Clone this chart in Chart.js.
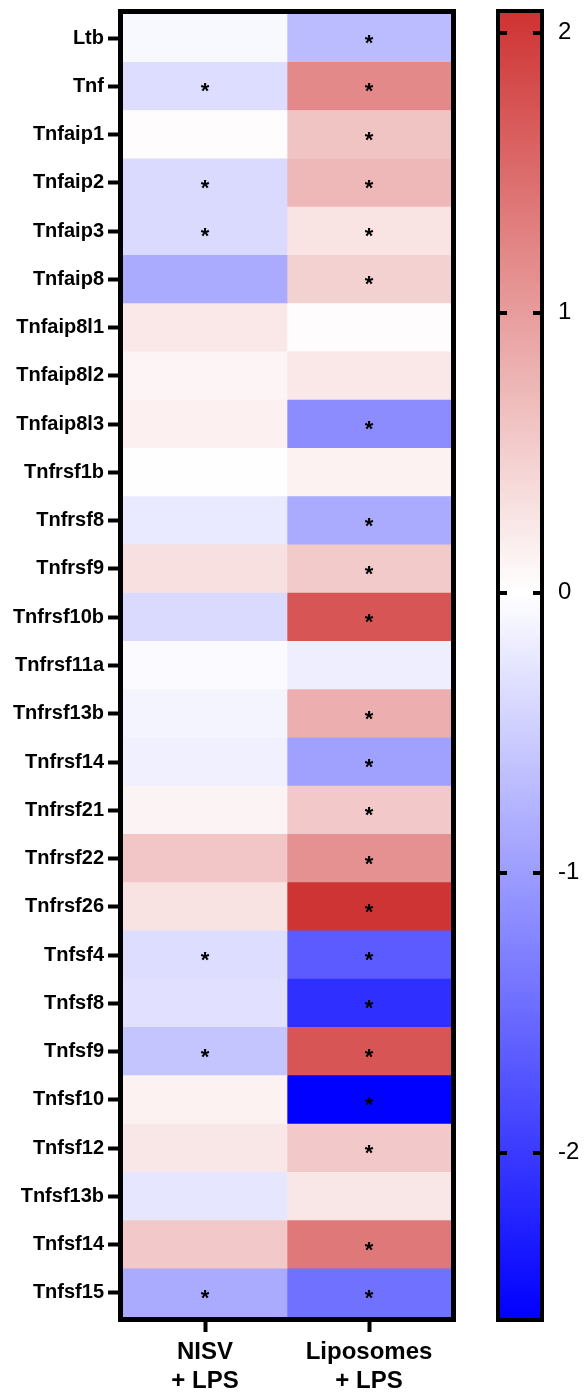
<!DOCTYPE html>
<html>
<head>
<meta charset="utf-8">
<script src="https://cdn.jsdelivr.net/npm/chart.js@4/dist/chart.umd.min.js"></script>
<style>
    body { margin: 0; background: #fff; }
    #wrap { position: relative; width: 585px; height: 1393px; }
    #heat { position: absolute; left: 0; top: 0; }
    #bar { position: absolute; left: 470px; top: 0; }
</style>
</head>
<body>
<div id="wrap">
    <canvas id="heat" width="470" height="1393"></canvas>
    <canvas id="bar" width="115" height="1393"></canvas>
</div>
<script>
const genes = ['Ltb', 'Tnf', 'Tnfaip1', 'Tnfaip2', 'Tnfaip3', 'Tnfaip8', 'Tnfaip8l1', 'Tnfaip8l2', 'Tnfaip8l3',
    'Tnfrsf1b', 'Tnfrsf8', 'Tnfrsf9', 'Tnfrsf10b', 'Tnfrsf11a', 'Tnfrsf13b', 'Tnfrsf14', 'Tnfrsf21', 'Tnfrsf22',
    'Tnfrsf26', 'Tnfsf4', 'Tnfsf8', 'Tnfsf9', 'Tnfsf10', 'Tnfsf12', 'Tnfsf13b', 'Tnfsf14', 'Tnfsf15'];
const groups = [['NISV', '+ LPS'], ['Liposomes', '+ LPS']];

const nisv = [-0.07, -0.35, 0.03, -0.38, -0.38, -0.86, 0.23, 0.10, 0.15,
    0.01, -0.22, 0.31, -0.38, -0.05, -0.11, -0.15, 0.11, 0.58,
    0.29, -0.35, -0.30, -0.60, 0.13, 0.25, -0.25, 0.56, -0.86];
const lipo = [-0.69, 1.20, 0.60, 0.72, 0.28, 0.47, 0.03, 0.23, -1.17,
    0.13, -0.86, 0.54, 1.72, -0.17, 0.82, -0.96, 0.56, 1.12,
    2.06, -1.67, -2.11, 1.72, -2.58, 0.56, 0.25, 1.36, -1.44];
const nisvSig = [0, 1, 0, 1, 1, 0, 0, 0, 0, 0, 0, 0, 0, 0, 0, 0, 0, 0, 0, 1, 0, 1, 0, 0, 0, 0, 1];
const lipoSig = [1, 1, 1, 1, 1, 1, 0, 0, 1, 0, 1, 1, 1, 0, 1, 1, 1, 1, 1, 1, 1, 1, 1, 1, 0, 1, 1];

const cbMin = -2.59;
const cbMax = 2.07;
const cbTicks = [-2, -1, 0, 1, 2];

const FONT = "'Liberation Sans', Arial, Helvetica, sans-serif";
const RED = [207, 51, 51];
const BLUE = [0, 0, 255];

function colorFor(v) {
    let t, c;
    if (v >= 0) { t = Math.min(v / cbMax, 1); c = RED; }
    else { t = Math.min(v / cbMin, 1); c = BLUE; }
    const r = Math.round(255 + (c[0] - 255) * t);
    const g = Math.round(255 + (c[1] - 255) * t);
    const b = Math.round(255 + (c[2] - 255) * t);
    return `rgb(${r},${g},${b})`;
}

// no extra room for half labels at the ends of an axis
function noEndPadding(scale) {
    scale.paddingTop = 0;
    scale.paddingBottom = 0;
    scale.paddingLeft = 0;
    scale.paddingRight = 0;
}

// frame + asterisks on the heatmap
const heatExtras = {
    id: 'heatExtras',
    afterDatasetsDraw(chart) {
        const { ctx, scales } = chart;
        ctx.save();
        ctx.fillStyle = '#000';
        ctx.font = `bold 22px ${FONT}`;
        ctx.textAlign = 'center';
        ctx.textBaseline = 'alphabetic';
        [nisvSig, lipoSig].forEach((sig, col) => {
            const x = scales.x.getPixelForValue(col + 0.5);
            sig.forEach((s, i) => {
                if (!s) return;
                const y = scales.y.getPixelForValue(i);
                ctx.fillText('*', x, y + 12);
            });
        });
        ctx.restore();
    },
    afterDraw(chart) {
        const { ctx, chartArea: a } = chart;
        ctx.save();
        ctx.strokeStyle = '#000';
        ctx.lineWidth = 5;
        ctx.strokeRect(a.left - 2.5, a.top - 2.5, a.right - a.left + 5, a.bottom - a.top + 5);
        ctx.restore();
    }
};

new Chart(document.getElementById('heat'), {
    type: 'bar',
    data: {
        labels: genes,
        datasets: [
            {
                label: 'NISV + LPS',
                data: genes.map(() => [0, 1]),
                backgroundColor: nisv.map(colorFor)
            },
            {
                label: 'Liposomes + LPS',
                data: genes.map(() => [1, 2]),
                backgroundColor: lipo.map(colorFor)
            }
        ]
    },
    options: {
        indexAxis: 'y',
        responsive: false,
        animation: false,
        devicePixelRatio: 1,
        layout: { padding: { top: 14, right: 19, left: 0, bottom: 0 } },
        datasets: {
            bar: { barPercentage: 1, categoryPercentage: 1, grouped: false, borderWidth: 0 }
        },
        plugins: { legend: { display: false }, tooltip: { enabled: false } },
        scales: {
            y: {
                type: 'category',
                offset: true,
                border: { display: false },
                grid: { drawOnChartArea: false, offset: false, tickLength: 15, tickWidth: 4, tickColor: '#000' },
                ticks: { color: '#000', font: { family: FONT, size: 20, weight: 'bold' }, padding: 4, autoSkip: false },
                afterFit(scale) { scale.width = 123; noEndPadding(scale); }
            },
            x: {
                type: 'linear',
                min: 0,
                max: 2,
                border: { display: false },
                grid: { drawOnChartArea: false, tickLength: 15, tickWidth: 4, tickColor: '#000' },
                afterBuildTicks(scale) { scale.ticks = [{ value: 0.5 }, { value: 1.5 }]; },
                ticks: {
                    color: '#000',
                    font: { family: FONT, size: 24, weight: 'bold', lineHeight: 1.2 },
                    padding: 6,
                    maxRotation: 0,
                    callback: (v, i) => groups[i]
                },
                afterFit(scale) { scale.height = 76; noEndPadding(scale); }
            }
        }
    },
    plugins: [heatExtras]
});

// colour bar
const barExtras = {
    id: 'barExtras',
    afterDraw(chart) {
        const { ctx, chartArea: a, scales } = chart;
        ctx.save();
        ctx.strokeStyle = '#000';
        ctx.lineWidth = 4;
        ctx.strokeRect(a.left - 2, a.top - 2, a.right - a.left + 4, a.bottom - a.top + 4);
        cbTicks.forEach(t => {
            const y = Math.round(scales.y.getPixelForValue(t));
            ctx.beginPath();
            ctx.moveTo(a.left, y); ctx.lineTo(a.left + 7, y);
            ctx.moveTo(a.right - 7, y); ctx.lineTo(a.right, y);
            ctx.stroke();
        });
        ctx.restore();
    }
};

new Chart(document.getElementById('bar'), {
    type: 'bar',
    data: {
        labels: [''],
        datasets: [{
            data: [[cbMin, cbMax]],
            borderWidth: 0,
            barPercentage: 1,
            categoryPercentage: 1,
            backgroundColor(c) {
                const { chart } = c;
                const { chartArea, scales } = chart;
                if (!chartArea) return '#fff';
                const y0 = scales.y.getPixelForValue(cbMin);
                const y1 = scales.y.getPixelForValue(cbMax);
                const g = chart.ctx.createLinearGradient(0, y0, 0, y1);
                const z = (0 - cbMin) / (cbMax - cbMin);
                g.addColorStop(0, colorFor(cbMin));
                g.addColorStop(z, '#fff');
                g.addColorStop(1, colorFor(cbMax));
                return g;
            }
        }]
    },
    options: {
        responsive: false,
        animation: false,
        devicePixelRatio: 1,
        layout: { padding: { top: 13, bottom: 75, left: 30, right: 0 } },
        plugins: { legend: { display: false }, tooltip: { enabled: false } },
        scales: {
            x: { display: false },
            y: {
                type: 'linear',
                position: 'right',
                min: cbMin,
                max: cbMax,
                border: { display: false },
                grid: { display: false, drawTicks: false },
                afterBuildTicks(scale) { scale.ticks = cbTicks.map(v => ({ value: v })); },
                ticks: {
                    color: '#000',
                    font: { family: FONT, size: 24 },
                    padding: 18,
                    callback: v => String(v)
                },
                afterFit(scale) { scale.width = 45; noEndPadding(scale); }
            }
        }
    },
    plugins: [barExtras]
});
</script>
</body>
</html>
